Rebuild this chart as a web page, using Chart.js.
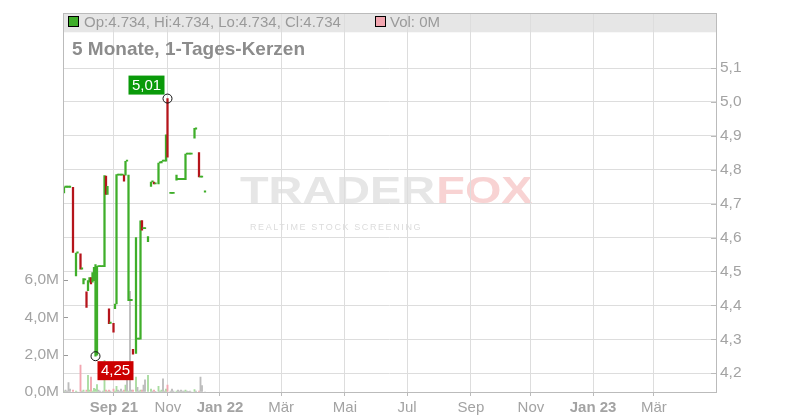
<!DOCTYPE html>
<html lang="de">

<head>
    <meta charset="UTF-8">
    <meta name="viewport" content="width=device-width, initial-scale=1.0">
    <title>5 Monate, 1-Tages-Kerzen</title>
    <script src="https://cdn.jsdelivr.net/npm/chart.js@4"></script>
    <style>
        html, body { margin: 0; padding: 0; background: #fff; }
        .janela { width: 800px; height: 420px; position: relative; }
    </style>
</head>

<body>
    <div class="janela">
        <canvas id="kerzenChart"></canvas>
    </div>
</body>

<script>
    // Handelstage (Index), Eroeffnung, Schluss, Volumen in Mio.
    var tage = [0, 1, 2, 3, 4, 6, 8, 9, 11, 12, 13, 14, 15, 16, 17, 18, 19, 20, 21, 22,
        23, 24, 25, 26, 27, 28, 29, 30, 31, 33, 34, 35, 36, 37, 38, 39, 40, 41, 42, 43,
        44, 45, 46, 48, 49, 50, 51, 52, 53, 54, 56, 58, 59, 60, 61, 63, 64, 65, 66, 67,
        68, 69, 71, 72, 73, 75, 76, 77, 78, 79, 80, 81, 82, 83, 84, 85, 87, 88, 90, 91,
        92, 94];
    var eroeffnung = [4.732, 4.748, 4.748, 4.748, 4.748, 4.748, 4.487, 4.554, 4.552, 4.507, 4.463, 4.475, 4.440, 4.443, 4.468, 4.482, 4.468, 4.473, 4.250, 4.253,
        4.514, 4.514, 4.514, 4.514, 4.514, 4.781, 4.727, 4.390, 4.347, 4.347, 4.390, 4.404, 4.784, 4.784, 4.784, 4.784, 4.784, 4.784, 4.825, 4.414,
        4.414, 4.414, 4.270, 4.258, 4.300, 4.300, 4.300, 4.650, 4.626, 4.626, 4.588, 4.751, 4.764, 4.764, 4.758, 4.758, 4.820, 4.820, 4.825, 4.825,
        4.825, 5.010, 4.730, 4.730, 4.730, 4.769, 4.771, 4.771, 4.771, 4.771, 4.771, 4.771, 4.846, 4.846, 4.846, 4.846, 4.893, 4.920, 4.851, 4.778,
        4.778, 4.734];
    var schluss = [4.748, 4.748, 4.748, 4.748, 4.748, 4.556, 4.554, 4.554, 4.507, 4.507, 4.479, 4.475, 4.394, 4.473, 4.482, 4.463, 4.497, 4.512, 4.520, 4.515,
        4.514, 4.514, 4.514, 4.514, 4.783, 4.727, 4.751, 4.346, 4.347, 4.321, 4.404, 4.786, 4.784, 4.784, 4.784, 4.784, 4.766, 4.825, 4.825, 4.784,
        4.414, 4.414, 4.256, 4.600, 4.300, 4.300, 4.649, 4.622, 4.626, 4.626, 4.603, 4.764, 4.764, 4.758, 4.758, 4.820, 4.820, 4.825, 4.825, 4.825,
        4.903, 4.837, 4.730, 4.730, 4.730, 4.784, 4.771, 4.771, 4.771, 4.771, 4.771, 4.846, 4.846, 4.846, 4.846, 4.846, 4.922, 4.920, 4.779, 4.778,
        4.778, 4.734];
    var volumen = [0.05, 0.1, 0.05, 0.5, 0.15, 0.1, 0.05, 0, 1.44, 0.05, 0.1, 0, 0.1, 0.9, 0.1, 0.8, 0.05, 0.2, 0.15, 0.4,
        0.1, 0.05, 0, 0.05, 1.7, 0.1, 0.05, 0.1, 0.05, 0.15, 0.05, 0.3, 0.1, 0.05, 0.15, 0.05, 0.1, 0.37, 0.64, 0.05,
        5.4, 0.1, 0.1, 0.8, 0.25, 0.05, 0.1, 0.1, 0.37, 0.65, 0.9, 0.15, 0.05, 0.1, 0.03, 0.3, 0.05, 0.1, 0.7, 0.05,
        0.15, 0.37, 0.05, 0.15, 0.05, 0.05, 0.1, 0.05, 0.1, 0.05, 0.05, 0.1, 0.05, 0.03, 0.05, 0, 0.13, 0.05, 0.05, 0.8,
        0.35, 0];

    // Achsenbeschriftungen
    var monatPos = [33.3, 69.3, 104, 144.7, 187.3, 228.7, 271.3, 311.3, 352.7, 393.3];
    var monatText = ['Sep 21', 'Nov', 'Jan 22', 'Mär', 'Mai', 'Jul', 'Sep', 'Nov', 'Jan 23', 'Mär'];
    var kursTicks = [4.2, 4.3, 4.4, 4.5, 4.6, 4.7, 4.8, 4.9, 5.0, 5.1];
    var volTicks = [0, 2, 4, 6];

    var FONTE = '"Liberation Sans", Arial, sans-serif';
    var GRUEN = '#3fae2a';
    var ROT = '#b5141b';

    function komma(v, n) {
        return v.toFixed(n).replace('.', ',');
    }

    var kerzen = tage.map(function (t, i) { return { x: t, y: [eroeffnung[i], schluss[i]] }; });
    var volDaten = tage.map(function (t, i) { return { x: t, y: volumen[i] }; });

    function richtung(i) {
        if (schluss[i] > eroeffnung[i]) return 1;
        if (schluss[i] < eroeffnung[i]) return -1;
        return 0;
    }

    // Hoch- und Tiefpunkt fuer die Markierungen
    var alle = eroeffnung.concat(schluss);
    var maxWert = Math.max.apply(null, alle);
    var minWert = Math.min.apply(null, alle);
    var maxIdx = tage[Math.max(eroeffnung.indexOf(maxWert), schluss.indexOf(maxWert))];
    var minIdx = tage[Math.max(eroeffnung.indexOf(minWert), schluss.indexOf(minWert))];
    var n = tage.length - 1;

    var rahmenPlugin = {
        id: 'rahmen',
        beforeDraw: function (chart) {
            var ctx = chart.ctx, a = chart.chartArea;
            ctx.save();
            ctx.fillStyle = '#fff';
            ctx.fillRect(0, 0, chart.width, chart.height);

            // Wasserzeichen
            ctx.save();
            ctx.translate(240, 203);
            ctx.scale(1.3, 1);
            ctx.font = 'bold 36px ' + FONTE;
            ctx.fillStyle = '#e6e6e6';
            ctx.fillText('TRADER', 0, 0);
            ctx.fillStyle = '#f8d3d3';
            ctx.fillText('FOX', 151, 0);
            ctx.restore();
            ctx.font = '9px ' + FONTE;
            ctx.fillStyle = '#dcdcdc';
            ctx.letterSpacing = '1.6px';
            ctx.fillText('REALTIME STOCK SCREENING', 250, 230);
            ctx.letterSpacing = '0px';

            // Kopfleiste
            ctx.fillStyle = '#e6e6e6';
            ctx.fillRect(a.left, a.top, a.right - a.left, 19);
            ctx.restore();
        },
        beforeDatasetsDraw: function (chart) {
            var ctx = chart.ctx;
            ctx.save();
            ctx.lineWidth = 1;
            ctx.strokeStyle = '#000';
            ctx.fillStyle = GRUEN;
            ctx.fillRect(68.5, 16.5, 10, 10);
            ctx.strokeRect(68.5, 16.5, 10, 10);
            ctx.fillStyle = '#f2a6b0';
            ctx.fillRect(375.5, 16.5, 10, 10);
            ctx.strokeRect(375.5, 16.5, 10, 10);

            ctx.font = '15px ' + FONTE;
            ctx.fillStyle = '#9a9a9a';
            ctx.textBaseline = 'alphabetic';
            var o = eroeffnung[n].toFixed(3), c = schluss[n].toFixed(3);
            var h = Math.max(eroeffnung[n], schluss[n]).toFixed(3), l = Math.min(eroeffnung[n], schluss[n]).toFixed(3);
            ctx.fillText('Op:' + o + ', Hi:' + h + ', Lo:' + l + ', Cl:' + c, 84, 26.5);
            ctx.fillText('Vol: ' + Math.round(volumen[n]) + 'M', 390, 26.5);

            ctx.font = 'bold 19px ' + FONTE;
            ctx.fillStyle = '#8c8c8c';
            ctx.fillText('5 Monate, 1-Tages-Kerzen', 72, 54.5);
            ctx.restore();
        },
        afterDatasetsDraw: function (chart) {
            var ctx = chart.ctx, a = chart.chartArea;
            var xs = chart.scales.x, ys = chart.scales.y, yv = chart.scales.yv;
            ctx.save();
            ctx.strokeStyle = '#999';
            ctx.lineWidth = 1;
            ctx.beginPath();
            volTicks.forEach(function (v) {
                var py = Math.round(yv.getPixelForValue(v)) + 0.5;
                ctx.moveTo(a.left, py);
                ctx.lineTo(a.left + 5, py);
            });
            ctx.stroke();
            ctx.strokeStyle = '#bbb';
            ctx.beginPath();
            kursTicks.forEach(function (v) {
                var py = Math.round(ys.getPixelForValue(v)) + 0.5;
                ctx.moveTo(a.right - 5, py);
                ctx.lineTo(a.right, py);
            });
            ctx.stroke();
            ctx.strokeRect(Math.round(a.left) + 0.5, Math.round(a.top) + 0.5,
                Math.round(a.right - a.left), Math.round(a.bottom - a.top));

            // Markierung Hoch
            var hx = xs.getPixelForValue(maxIdx), hy = ys.getPixelForValue(maxWert);
            ctx.strokeStyle = '#111';
            ctx.beginPath();
            ctx.arc(hx, hy, 4.5, 0, Math.PI * 2);
            ctx.stroke();
            ctx.fillStyle = '#0a9a0a';
            ctx.fillRect(hx - 39, hy - 23, 36, 19);
            ctx.fillStyle = '#fff';
            ctx.font = '15px ' + FONTE;
            ctx.textAlign = 'center';
            ctx.textBaseline = 'middle';
            ctx.fillText(komma(maxWert, 2), hx - 21, hy - 13);

            // Markierung Tief
            var lx = xs.getPixelForValue(minIdx), ly = ys.getPixelForValue(minWert);
            ctx.beginPath();
            ctx.arc(lx, ly, 4.5, 0, Math.PI * 2);
            ctx.stroke();
            ctx.fillStyle = '#cc0000';
            ctx.fillRect(lx + 2, ly + 5, 36, 19);
            ctx.fillStyle = '#fff';
            ctx.fillText(komma(minWert, 2), lx + 20, ly + 15);
            ctx.restore();
        }
    };

    new Chart(document.getElementById('kerzenChart'), {
        type: 'bar',
        data: {
            datasets: [{
                label: 'Kurs',
                data: kerzen,
                yAxisID: 'y',
                grouped: false,
                barThickness: 1.6,
                minBarLength: 1.2,
                backgroundColor: function (c) {
                    return richtung(c.dataIndex) < 0 ? ROT : GRUEN;
                },
                order: 1
            }, {
                label: 'Volumen',
                data: volDaten,
                yAxisID: 'yv',
                grouped: false,
                barThickness: 1.2,
                backgroundColor: function (c) {
                    var r = richtung(c.dataIndex);
                    if (r > 0) return '#a9dca0';
                    if (r < 0) return '#f2a6b0';
                    return '#bdbdbd';
                },
                order: 2
            }]
        },
        options: {
            responsive: true,
            maintainAspectRatio: false,
            animation: false,
            devicePixelRatio: 1,
            layout: { padding: { top: 11 } },
            plugins: {
                legend: { display: false },
                tooltip: { enabled: false }
            },
            scales: {
                x: {
                    type: 'linear',
                    position: 'bottom',
                    min: -0.667,
                    max: 434.67,
                    offset: false,
                    afterBuildTicks: function (s) {
                        s.ticks = monatPos.map(function (v) { return { value: v }; });
                    },
                    afterFit: function (s) { s.height = 28; },
                    grid: { offset: false, color: '#dddddd', tickLength: 4, tickColor: '#bbbbbb' },
                    border: { color: '#bbbbbb' },
                    ticks: {
                        autoSkip: false,
                        maxRotation: 0,
                        padding: 3,
                        color: '#a3a3a3',
                        font: function (c) {
                            var t = monatText[c.index] || '';
                            return { family: FONTE, size: 15, weight: t.indexOf(' ') > 0 ? 'bold' : 'normal' };
                        },
                        callback: function (v, i) { return monatText[i]; }
                    }
                },
                y: {
                    position: 'right',
                    min: 4.1443,
                    max: 5.2616,
                    afterBuildTicks: function (s) {
                        s.ticks = kursTicks.map(function (v) { return { value: v }; });
                    },
                    afterFit: function (s) { s.width = 84; },
                    grid: { color: '#dddddd', drawTicks: false },
                    border: { color: '#bbbbbb' },
                    ticks: {
                        padding: 4,
                        color: '#a3a3a3',
                        font: { family: FONTE, size: 15.5 },
                        callback: function (v) { return komma(v, 1); }
                    }
                },
                yv: {
                    position: 'left',
                    min: 0,
                    max: 20.32,
                    afterBuildTicks: function (s) {
                        s.ticks = volTicks.map(function (v) { return { value: v }; });
                    },
                    afterFit: function (s) { s.width = 63; },
                    grid: { drawOnChartArea: false, drawTicks: false },
                    border: { color: '#bbbbbb' },
                    ticks: {
                        padding: 4,
                        color: '#a3a3a3',
                        font: { family: FONTE, size: 15.5 },
                        callback: function (v) { return komma(v, 1) + 'M'; }
                    }
                }
            }
        },
        plugins: [rahmenPlugin]
    });
</script>

</html>
